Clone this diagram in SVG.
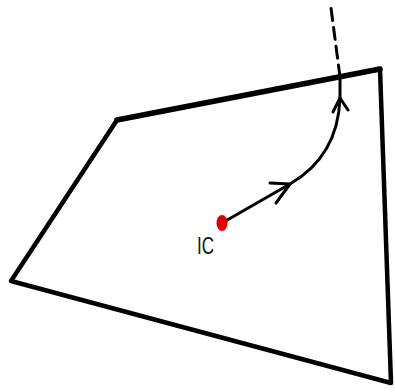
<svg xmlns="http://www.w3.org/2000/svg" width="395" height="392" viewBox="0 0 395 392">
<style>
.edge{fill:none;stroke:#000;stroke-linecap:round;stroke-linejoin:round}
.lbl{font-family:"Liberation Sans",Arial,sans-serif;font-size:23px;fill:#111}
</style>
<rect width="395" height="392" fill="#fff"/>
<g id="region">
<path class="edge" stroke-width="5.5" d="M117,120 L380,69"/>
<path class="edge" stroke-width="4.5" d="M380,69 L391,383 L11,281 L117,120"/>
</g>
<g id="connectors">
<path class="edge" stroke-width="3" d="M222,223 L290,184 Q338,156 340,98 L340,77"/>
<path class="edge" stroke-width="3" stroke-dasharray="12,7" d="M340,77 L331,8"/>
<path class="edge" stroke-width="3" d="M270,183 L290,184 L276,203"/>
<path class="edge" stroke-width="3" d="M333,112 L340,98 L348,110"/>
</g>
<g id="IC">
<ellipse cx="222" cy="223" rx="5.5" ry="8" fill="#e00000"/>
<text class="lbl" x="197" y="254" textLength="17" lengthAdjust="spacingAndGlyphs">IC</text>
</g>
</svg>
